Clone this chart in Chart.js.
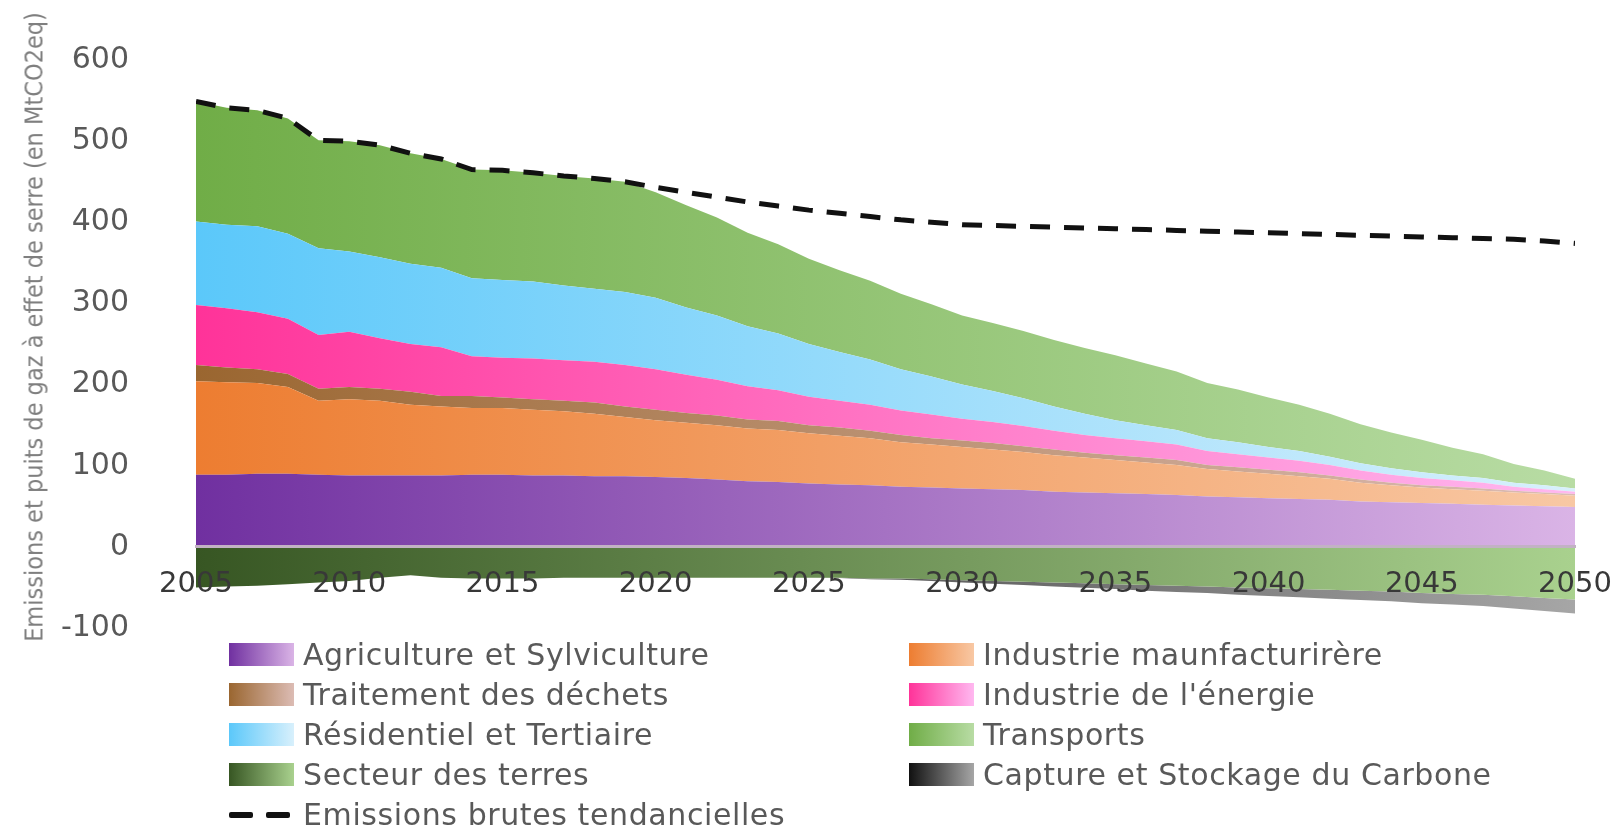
<!DOCTYPE html>
<html lang="fr">
<head>
<meta charset="UTF-8">
<title>Emissions et puits de gaz à effet de serre</title>
<script src="https://cdn.jsdelivr.net/npm/chart.js@4.4.0/dist/chart.umd.min.js"></script>
<style>
    html, body { margin: 0; padding: 0; background: #fff; }
    #wrap { position: relative; width: 1620px; height: 828px; }
    #ytitle {
        position: absolute; left: 34px; top: 327px; width: 640px;
        transform: translate(-50%, -50%) rotate(-90deg);
        text-align: center; white-space: nowrap;
        font-family: "DejaVu Sans Condensed", "Liberation Sans Narrow", Roboto, sans-serif;
        font-size: 25px; color: #7f7f7f;
    }
    #legend {
        position: absolute; left: 229px; top: 635px;
        display: grid; grid-template-columns: 680px 660px; grid-auto-rows: 39.8px;
        font-family: "DejaVu Sans", sans-serif; font-size: 30px; letter-spacing: 0.6px; color: #595959;
    }
    .item { display: flex; align-items: center; white-space: nowrap; }
    .sw { width: 65px; height: 23px; margin-right: 9px; flex: none; }
    .dash { width: 65px; height: 23px; margin-right: 9px; flex: none; position: relative; }
    .dash i { position: absolute; top: 9px; height: 6px; width: 24px; background: #111; border-radius: 2px; }
</style>
</head>
<body>
<div id="wrap">
    <canvas id="myChart" width="1620" height="828"></canvas>
    <div id="ytitle">Emissions et puits de gaz à effet de serre (en MtCO2eq)</div>
    <div id="legend"></div>
</div>
<script>
    // années et valeurs (MtCO2eq)
    const years = [2005,2006,2007,2008,2009,2010,2011,2012,2013,2014,2015,2016,2017,2018,2019,2020,
        2021,2022,2023,2024,2025,2026,2027,2028,2029,2030,2031,2032,2033,2034,2035,
        2036,2037,2038,2039,2040,2041,2042,2043,2044,2045,2046,2047,2048,2049,2050];
    const xTicks = [2005,2010,2015,2020,2025,2030,2035,2040,2045,2050];
    const yTicks = [-100,0,100,200,300,400,500,600];

    const agri = [89,89,90,90,89,88,88,88,88,89,89,88,88,87,87,86, 85,83,81,80,78, 77,76,74,73,72, 71,70,68,67,66, 65,64,62,61,60, 59,58,56,55,54, 53,52,51,50,49];
    const indus = [115,114,112,107,91,94,92,87,85,82,82,81,79,77,73,70, 68,67,65,64,62, 60,58,55,53,51, 49,47,45,43,41, 39,37,34,32,30, 28,26,23,21,19, 18,17,16,15,14];
    const dechets = [20,18,17,16,15,15,15,16,13,15,13,13,13,14,13,13, 12,12,11,11,10, 10,9,9,8,8, 8,7,7,6,6, 6,6,5,5,5, 5,4,4,3,3, 3,3,2,2,2];
    const energie = [74,73,70,68,66,68,62,59,60,49,49,50,50,50,51,50, 47,44,41,38,35, 33,32,30,29,27, 26,25,23,22,21, 20,19,17,16,15, 14,13,11,10,9, 8,7,5,4,3];
    const resid = [103,103,106,105,107,99,100,99,98,96,96,95,92,90,90,88, 83,79,74,70,65, 60,56,51,47,42, 38,34,30,26,22, 20,18,16,15,13, 12,10,9,8,7, 6,6,5,5,4];
    const transports = [148,144,143,142,133,136,138,136,134,134,135,134,135,136,136,130, 126,121,115,110,105, 101,97,93,89,85, 84,83,82,81,80, 76,72,68,65,61, 57,53,48,44,40, 34,29,23,18,12];
    const terres = [-50,-49,-48,-46,-44,-42,-38,-35,-38,-39,-39,-39,-38,-38,-38,-38, -38,-38,-38,-38,-38, -38,-39,-39,-40,-41, -42,-43,-44,-45,-46, -47,-48,-49,-50,-51, -52,-53,-54,-55,-57, -58,-59,-61,-63,-65];
    const capture = [0,0,0,0,0,0,0,0,0,0,0,0,0,0,0,0, 0,0,0,0,0, -0.5,-1,-1.5,-2,-3, -3.5,-4,-5,-5.5,-6, -7,-7.5,-8,-9,-9.5, -10,-11,-11.5,-12,-12.5, -13,-14,-15,-16,-17];
    const tendance = [549,541,538,528,501,500,495,485,478,465,464,461,457,454,450,443, 437,431,425,420,415, 411,407,403,400,397, 396,395,394,393,392, 391,390,389,388,387, 386,385,384,383,382, 381,380,379,377,374];

    // couleurs : début (2005) -> fin (2050)
    const series = [
        {label: 'Agriculture et Sylviculture', data: agri, c: ['#7030a0', '#dab4e6'], stack: 'pos', fill: 'origin'},
        {label: 'Industrie maunfacturirère', data: indus, c: ['#ed7d31', '#f8c8a4'], stack: 'pos', fill: '-1'},
        {label: 'Traitement des déchets', data: dechets, c: ['#9a6630', '#dcbcb4'], stack: 'pos', fill: '-1'},
        {label: "Industrie de l'énergie", data: energie, c: ['#ff3399', '#ffb8f0'], stack: 'pos', fill: '-1'},
        {label: 'Résidentiel et Tertiaire', data: resid, c: ['#5bc8fa', '#d8f0fc'], stack: 'pos', fill: '-1'},
        {label: 'Transports', data: transports, c: ['#70ad47', '#b8dca4'], stack: 'pos', fill: '-1'},
        {label: 'Secteur des terres', data: terres, c: ['#375623', '#a9d18e'], stack: 'neg', fill: 'origin'},
        {label: 'Capture et Stockage du Carbone', data: capture, c: ['#111111', '#a6a6a6'], stack: 'neg', fill: '-1'}
    ];

    const toPts = arr => years.map((yr, i) => ({x: yr, y: arr[i]}));

    const grad = (cols) => (ctx) => {
        const chart = ctx.chart;
        const area = chart.chartArea;
        if (!area) return cols[0];
        const g = chart.ctx.createLinearGradient(area.left, 0, area.right, 0);
        g.addColorStop(0, cols[0]);
        g.addColorStop(1, cols[1]);
        return g;
    };

    const datasets = series.map(s => ({
        label: s.label,
        data: toPts(s.data),
        stack: s.stack,
        fill: s.fill,
        backgroundColor: grad(s.c),
        borderWidth: 0,
        pointRadius: 0,
        tension: 0
    }));
    datasets.push({
        label: 'Emissions brutes tendancielles',
        data: toPts(tendance),
        stack: 'trend',
        fill: false,
        borderColor: '#111',
        borderWidth: 5,
        borderDash: [20, 14],
        pointRadius: 0,
        tension: 0,
        order: -1
    });

    const ctx = document.getElementById('myChart').getContext('2d');
    const myChart = new Chart(ctx, {
        type: 'line',
        data: {datasets: datasets},
        options: {
            responsive: false,
            animation: false,
            layout: {padding: {left: 12, right: 45, top: 60, bottom: 200}},
            plugins: {legend: {display: false}, tooltip: {enabled: false}},
            scales: {
                x: {
                    type: 'linear',
                    position: {y: 0},
                    min: 2005, max: 2050,
                    afterBuildTicks: s => { s.ticks = xTicks.map(v => ({value: v})); },
                    grid: {display: false, tickLength: 17},
                    border: {display: true, color: '#c2b2c4', width: 3, z: 1},
                    ticks: {
                        z: 2,
                        padding: 3,
                        maxRotation: 0,
                        color: '#383838',
                        font: {family: 'DejaVu Sans', size: 29},
                        callback: v => String(v)
                    }
                },
                y: {
                    stacked: true,
                    min: -100, max: 600,
                    afterBuildTicks: s => { s.ticks = yTicks.map(v => ({value: v})); },
                    afterFit: s => { s.width = 184; },
                    grid: {display: false, tickLength: 59},
                    border: {display: false},
                    ticks: {
                        padding: 8,
                        color: '#595959',
                        font: {family: 'DejaVu Sans', size: 30},
                        callback: v => String(v)
                    }
                }
            }
        }
    });

    // légende en deux colonnes
    const legend = document.getElementById('legend');
    series.forEach(s => {
        const it = document.createElement('div');
        it.className = 'item';
        const sw = document.createElement('span');
        sw.className = 'sw';
        sw.style.background = 'linear-gradient(to right, ' + s.c[0] + ', ' + s.c[1] + ')';
        it.appendChild(sw);
        it.appendChild(document.createTextNode(s.label));
        legend.appendChild(it);
    });
    const tr = document.createElement('div');
    tr.className = 'item';
    tr.innerHTML = '<span class="dash"><i style="left:0"></i><i style="left:37px"></i></span>Emissions brutes tendancielles';
    legend.appendChild(tr);
</script>
</body>
</html>
